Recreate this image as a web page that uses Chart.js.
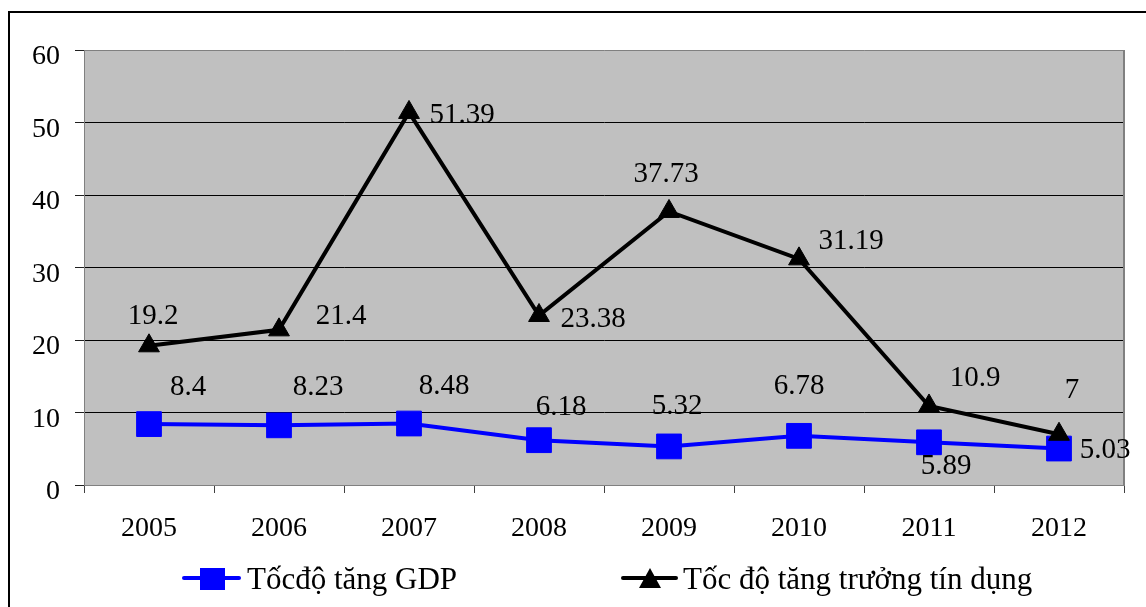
<!DOCTYPE html>
<html>
<head>
<meta charset="utf-8">
<script src="https://cdn.jsdelivr.net/npm/chart.js@4/dist/chart.umd.min.js"></script>
<style>
  html, body { margin: 0; padding: 0; background: #fff; }
  #wrap { width: 1146px; height: 607px; position: relative; }
</style>
</head>
<body>
<div id="wrap"><canvas id="c" width="1146" height="607"></canvas></div>
<script>
// Years on the category axis
const years = ['2005', '2006', '2007', '2008', '2009', '2010', '2011', '2012'];
// GDP growth rate (%)
const gdpGrowth = [8.4, 8.23, 8.48, 6.18, 5.32, 6.78, 5.89, 5.03];
// Credit growth rate (%)
const creditGrowth = [19.2, 21.4, 51.39, 23.38, 37.73, 31.19, 10.9, 7];
// Y-axis tick values
const yTicks = [0, 10, 20, 30, 40, 50, 60];
// Series names
const gdpName = 'Tốcđộ tăng GDP';
const creditName = 'Tốc độ tăng trưởng tín dụng';

// Where each value label sits relative to its point (px)
const gdpLabelOffsets = [[39, -37], [39, -38], [35, -37], [22, -33], [8, -40], [0, -49], [17, 24], [46, 2]];
const creditLabelOffsets = [[4, -29], [62, -13], [53, 3], [54, 4], [-3, -37], [52, -17], [46, -28], [13, -44]];

const FONT = "'Liberation Serif', 'Times New Roman', serif";

// Grey plot background, outer frame and right plot edge
const backdrop = {
  id: 'backdrop',
  beforeDraw(chart) {
    const { ctx, chartArea: a } = chart;
    ctx.save();
    ctx.fillStyle = '#fff';
    ctx.fillRect(0, 0, chart.width, chart.height);
    ctx.fillStyle = '#C0C0C0';
    ctx.fillRect(a.left, a.top, a.right - a.left, a.bottom - a.top);
    // outer frame (left and top edges)
    ctx.strokeStyle = '#000';
    ctx.lineWidth = 2;
    ctx.beginPath();
    ctx.moveTo(9, chart.height + 5);
    ctx.lineTo(9, 12);
    ctx.lineTo(chart.width + 5, 12);
    ctx.stroke();
    ctx.restore();
  },
  beforeDatasetsDraw(chart) {
    const { ctx, chartArea: a } = chart;
    ctx.save();
    ctx.strokeStyle = '#808080';
    ctx.lineWidth = 2;
    ctx.beginPath();
    ctx.moveTo(a.right, a.top);
    ctx.lineTo(a.right, a.bottom);
    ctx.stroke();
    ctx.restore();
  }
};

// Value labels next to each point
const valueLabels = {
  id: 'valueLabels',
  afterDatasetsDraw(chart) {
    const { ctx } = chart;
    ctx.save();
    ctx.font = '29px ' + FONT;
    ctx.fillStyle = '#000';
    ctx.textAlign = 'center';
    ctx.textBaseline = 'middle';
    chart.data.datasets.forEach((ds, i) => {
      const meta = chart.getDatasetMeta(i);
      const offs = ds.labelOffsets;
      meta.data.forEach((pt, j) => {
        const [dx, dy] = offs[j];
        ctx.fillText(String(ds.data[j]), pt.x + dx, pt.y + dy);
      });
    });
    ctx.restore();
  }
};

// Legend with line-and-marker swatches
const lineLegend = {
  id: 'lineLegend',
  afterDraw(chart) {
    const { ctx } = chart;
    const y = 578;
    ctx.save();
    ctx.lineCap = 'round';
    // GDP swatch
    ctx.strokeStyle = '#0000FF';
    ctx.lineWidth = 4;
    ctx.beginPath(); ctx.moveTo(184, y); ctx.lineTo(239, y); ctx.stroke();
    ctx.fillStyle = '#0000FF';
    ctx.fillRect(200, 568, 25, 22);
    // credit swatch
    ctx.strokeStyle = '#000';
    ctx.beginPath(); ctx.moveTo(623, y); ctx.lineTo(676, y); ctx.stroke();
    ctx.fillStyle = '#000';
    ctx.beginPath();
    ctx.moveTo(650, 568); ctx.lineTo(661, 588); ctx.lineTo(639, 588); ctx.closePath();
    ctx.fill();
    // names
    ctx.font = '31px ' + FONT;
    ctx.textAlign = 'left';
    ctx.textBaseline = 'middle';
    ctx.fillText(gdpName, 247, 581);
    ctx.fillText(creditName, 683, 581);
    ctx.restore();
  }
};

new Chart(document.getElementById('c'), {
  type: 'line',
  data: {
    labels: years,
    datasets: [
      {
        label: creditName,
        data: creditGrowth,
        labelOffsets: creditLabelOffsets,
        borderColor: '#000',
        backgroundColor: '#000',
        borderWidth: 4,
        pointStyle: 'triangle',
        pointRadius: 12,
        pointBorderWidth: 1,
        pointBackgroundColor: '#000',
        pointBorderColor: '#000',
        tension: 0,
        order: 0
      },
      {
        label: gdpName,
        data: gdpGrowth,
        labelOffsets: gdpLabelOffsets,
        borderColor: '#0000FF',
        backgroundColor: '#0000FF',
        borderWidth: 4,
        pointStyle: 'rect',
        pointRadius: 17.5,
        pointBorderWidth: 1,
        pointBackgroundColor: '#0000FF',
        pointBorderColor: '#0000FF',
        tension: 0,
        order: 1
      }
    ]
  },
  options: {
    responsive: false,
    animation: false,
    devicePixelRatio: 1,
    layout: { padding: { top: 50, right: 22, left: 0, bottom: 0 } },
    plugins: {
      legend: { display: false },
      tooltip: { enabled: false }
    },
    scales: {
      x: {
        type: 'category',
        offset: true,
        afterFit(scale) { scale.height = 122; },
        grid: {
          offset: true,
          drawOnChartArea: false,
          drawTicks: true,
          tickLength: 8,
          tickColor: '#404040',
          lineWidth: 1
        },
        border: { display: true, color: '#808080', width: 1 },
        ticks: {
          color: '#000',
          font: { family: FONT, size: 28 },
          padding: 19,
          maxRotation: 0,
          autoSkip: false
        }
      },
      y: {
        min: 0,
        max: 60,
        afterFit(scale) { scale.width = 84; },
        afterBuildTicks(scale) { scale.ticks = yTicks.map(v => ({ value: v })); },
        grid: {
          color: ctx => (ctx.tick && (ctx.tick.value === 0 || ctx.tick.value === 60)) ? '#808080' : '#000',
          lineWidth: 1,
          tickLength: 9,
          tickColor: '#202020'
        },
        border: { display: true, color: '#808080', width: 1 },
        ticks: {
          color: '#000',
          font: { family: FONT, size: 28 },
          padding: 15,
          labelOffset: 7
        }
      }
    }
  },
  plugins: [backdrop, valueLabels, lineLegend]
});
</script>
</body>
</html>
